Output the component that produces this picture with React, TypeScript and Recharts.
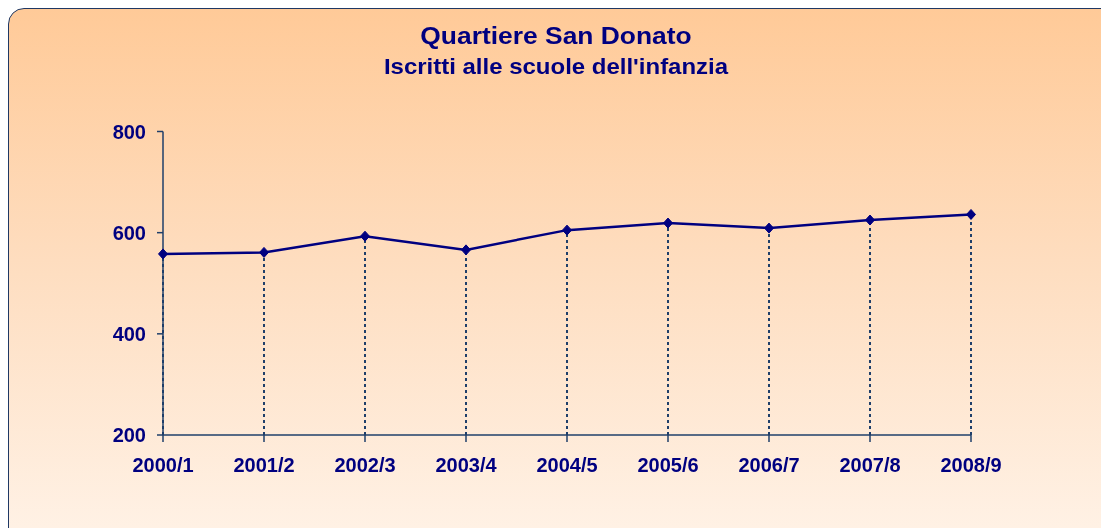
import React from "react";
import { LineChart, Line, XAxis, YAxis, ReferenceLine } from "recharts";

const years = ["2000/1", "2001/2", "2002/3", "2003/4", "2004/5", "2005/6", "2006/7", "2007/8", "2008/9"];
const iscritti = [558, 561, 593, 566, 605, 619, 609, 625, 636];
const yTicks = [200, 400, 600, 800];
const yDomain: [number, number] = [200, 800];

const data = years.map((y, i) => ({ year: y, value: iscritti[i] }));

const NAVY = "#000080";
const AXIS = "#1F3F6A";
const FONT = "'Liberation Sans', Arial, Helvetica, sans-serif";

const Diamond = (props: any) => {
  const { cx, cy } = props;
  if (cx == null || cy == null) return null;
  return (
    <polygon
      points={`${cx},${cy - 5} ${cx + 4.5},${cy} ${cx},${cy + 5} ${cx - 4.5},${cy}`}
      fill={NAVY}
      stroke={NAVY}
    />
  );
};

export default function App() {
  return (
    <div
      style={{
        position: "fixed",
        top: 8,
        left: 8,
        right: 0,
        bottom: 0,
        overflow: "hidden",
      }}
    >
      <div
        style={{
          position: "absolute",
          top: 0,
          left: 0,
          width: 1120,
          height: 560,
          boxSizing: "border-box",
          border: "1.5px solid #1F3864",
          borderRadius: 16,
          background: "linear-gradient(to bottom, #FFCA98 0%, #FEDDBF 45%, #FFF4EA 100%)",
        }}
      />
      <div
        style={{
          position: "absolute",
          top: 12.7,
          left: 0,
          width: 1096,
          textAlign: "center",
          fontFamily: FONT,
          fontWeight: "bold",
          color: NAVY,
          fontSize: 24,
          lineHeight: "30px",
          transform: "scaleX(1.1)",
          transformOrigin: "548px 50%",
        }}
      >
        Quartiere San Donato
      </div>
      <div
        style={{
          position: "absolute",
          top: 46.4,
          left: 0,
          width: 1096,
          textAlign: "center",
          fontFamily: FONT,
          fontWeight: "bold",
          color: NAVY,
          fontSize: 22,
          lineHeight: "26px",
          transform: "scaleX(1.09)",
          transformOrigin: "548px 50%",
        }}
      >
        Iscritti alle scuole dell'infanzia
      </div>
      <div style={{ position: "absolute", top: 0, left: 0 }}>
        <LineChart
          width={1093}
          height={520}
          data={data}
          margin={{ top: 123.5, right: 130, bottom: 63, left: 95 }}
        >
          <XAxis
            dataKey="year"
            padding={{ left: 0, right: 0 }}
            axisLine={{ stroke: AXIS, strokeWidth: 1.5 }}
            tickLine={{ stroke: AXIS, strokeWidth: 1.5 }}
            tickSize={7}
            tickMargin={16}
            height={30}
            interval={0}
            tick={{ fill: NAVY, fontSize: 20, fontWeight: "bold", fontFamily: FONT }}
          />
          <YAxis
            domain={yDomain}
            ticks={yTicks}
            width={60}
            axisLine={{ stroke: AXIS, strokeWidth: 1.5 }}
            tickLine={{ stroke: AXIS, strokeWidth: 1.5 }}
            tickSize={6}
            tickMargin={11}
            tick={{ fill: NAVY, fontSize: 20, fontWeight: "bold", fontFamily: FONT }}
          />
          {data.map((d) => (
            <ReferenceLine
              key={d.year}
              segment={[
                { x: d.year, y: yDomain[0] },
                { x: d.year, y: d.value },
              ]}
              stroke={AXIS}
              strokeWidth={2}
              strokeDasharray="3 3"
            />
          ))}
          <Line
            type="linear"
            dataKey="value"
            stroke={NAVY}
            strokeWidth={2.5}
            dot={<Diamond />}
            activeDot={false}
            isAnimationActive={false}
          />
        </LineChart>
      </div>
    </div>
  );
}
